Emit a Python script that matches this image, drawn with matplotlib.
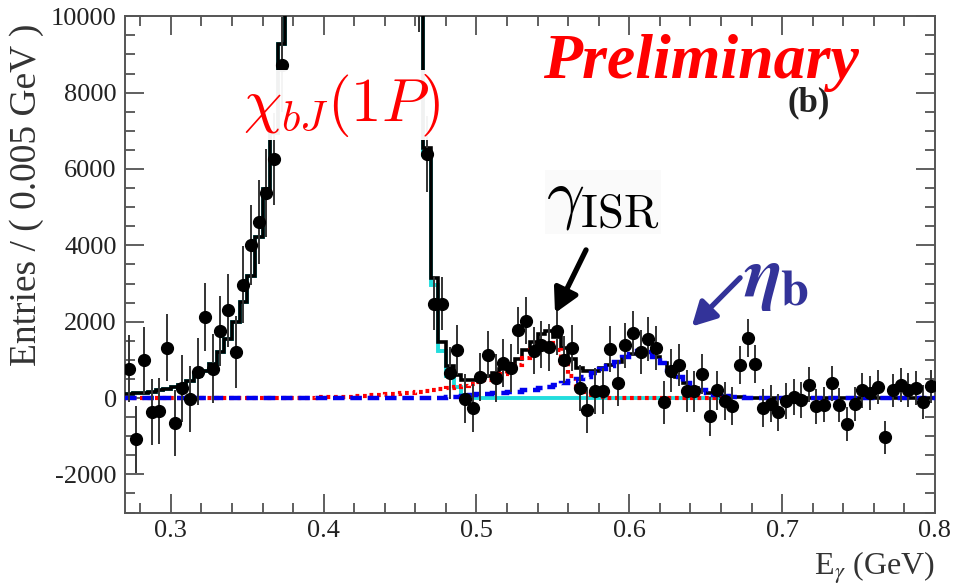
import numpy as np
import matplotlib.pyplot as plt
from matplotlib.ticker import MultipleLocator, FormatStrFormatter

plt.rcParams['font.family'] = ['Liberation Serif', 'DejaVu Serif']
plt.rcParams['mathtext.fontset'] = 'stix'
plt.rcParams['axes.unicode_minus'] = False

# 0.005 GeV bins from 0.27 to 0.80
edges = np.linspace(0.27, 0.80, 107)
centers = 0.5 * (edges[:-1] + edges[1:])

# data points (entries / bin) and errors
entries = [770, -1080, 990, -360, -345, 1320, -650, 250, -30, 690,
           2120, 770, 1760, 2300, 1200, 2970, 4000, 4610, 5370, 6260,
           8730, 13000, 17500, 21000, 27000, 31500, 36000, 38000, 41000, 42000,
           40000, 38500, 33000, 30000, 24000, 19000, 15000, 12500, 11000, 6400,
           2470, 2470, 650, 1265, -20, -270, 540, 1134, 524, 916,
           785, 1772, 2024, 1238, 1400, 1327, 1745, 1003, 1309, 262,
           -306, 175, 175, 1291, 385, 1380, 1700, 1200, 1553, 1309,
           -113, 720, 872, 175, 175, 630, -480, 200, -87, -200,
           856, 1571, 890, -262, -148, -375, -87, 17, -44, 349,
           -218, -175, 385, -175, -681, -157, 201, 131, 288, -1029,
           201, 349, 218, 262, -105, 306]
errors = [880, 880, 880, 870, 870, 870, 870, 870, 870, 880,
          900, 900, 920, 950, 950, 1000, 1050, 1100, 1150, 1200,
          1250, 1400, 1500, 1500, 1600, 1600, 1700, 1700, 1700, 1700,
          1700, 1700, 1700, 1600, 1600, 1500, 1500, 1400, 1400, 1000,
          700, 700, 680, 650, 640, 630, 630, 620, 620, 620,
          620, 620, 620, 620, 620, 620, 620, 620, 610, 600,
          600, 600, 600, 600, 600, 590, 580, 580, 580, 570,
          560, 560, 550, 550, 540, 530, 520, 510, 500, 500,
          500, 500, 490, 490, 480, 480, 470, 470, 470, 460,
          460, 460, 460, 450, 450, 450, 450, 450, 450, 440,
          440, 440, 440, 440, 440, 440]

# fit components per bin
fit_chib = [100, 120, 145, 170, 200, 235, 280, 340, 440, 580,
            720, 900, 1200, 1550, 1980, 2520, 3200, 4230, 5480, 6950,
            9280, 12500, 16500, 21000, 26000, 31000, 35500, 39000, 41000, 41500,
            40500, 38000, 34000, 29500, 24500, 19500, 15500, 12500, 10800, 6360,
            2950, 1240, 570, 290, 90, 30, 0, 0, 0, 0] + [0] * 56
fit_isr = [0] * 20 + [0, 0, 0, 5, 10, 15, 20, 25, 30, 40,
                      50, 60, 70, 85, 100, 115, 130, 145, 165, 185,
                      205, 230, 255, 285, 320, 360, 410, 470, 540, 620,
                      720, 860, 1060, 1250, 1420, 1450, 1250, 930, 580, 300,
                      150, 70, 30, 10] + [0] * 42
fit_etab = [0] * 41 + [10, 20, 40, 60, 80, 100, 110, 120, 130,
                       150, 170, 200, 220, 260, 300, 340, 390, 450, 490,
                       560, 650, 750, 850, 950, 1080, 1160, 1230, 1200, 1080,
                       920, 740, 560, 390, 270, 200, 140, 90, 60, 40,
                       20, 10] + [0] * 24

chib = np.array(fit_chib)
isr = np.array(fit_isr)
etab = np.array(fit_etab)
total = chib + isr + etab
ncomp = 79  # chi_b and ISR components drawn up to 0.665

fig = plt.figure(figsize=(9.54, 5.85), dpi=100)
ax = fig.add_axes([0.131, 0.1238, 0.849, 0.8484])

ax.stairs(chib[:ncomp], edges[:ncomp + 1], baseline=None, color='#22dddd', lw=2.8, zorder=2)
ax.stairs(total, edges, baseline=None, color='black', lw=2.6, zorder=3)
ax.stairs(isr[:ncomp], edges[:ncomp + 1], baseline=None, color='red', lw=3.0,
          linestyle=(0, (0.9, 0.9)), zorder=4)
ax.stairs(etab, edges, baseline=None, color='#0000ee', lw=3.2,
          linestyle=(0, (2.6, 1.3)), zorder=5)
ax.errorbar(centers, entries, yerr=errors, fmt='o', color='black', ms=8.5,
            ecolor='#333333', elinewidth=1.4, capsize=0, zorder=6)

ax.set_xlim(0.27, 0.80)
ax.set_ylim(-3000, 10000)
ax.xaxis.set_major_locator(MultipleLocator(0.1))
ax.xaxis.set_minor_locator(MultipleLocator(0.02))
ax.yaxis.set_major_locator(MultipleLocator(2000))
ax.yaxis.set_minor_locator(MultipleLocator(500))
ax.xaxis.set_major_formatter(FormatStrFormatter('%.1f'))
ax.tick_params(which='both', direction='in', top=True, right=True,
               color='#444444', width=1.2, labelcolor='#222222')
ax.tick_params(which='major', length=14)
ax.tick_params(which='minor', length=7)
ax.tick_params(axis='x', labelsize=19, pad=5)
ax.tick_params(axis='y', labelsize=19, pad=6)
for s in ax.spines.values():
    s.set_color('#555555')
    s.set_linewidth(1.4)

ax.set_ylabel('Entries / ( 0.005 GeV )', fontsize=27, loc='top', color='#333333')
ax.yaxis.set_label_coords(-0.10, 0.985)
ax.set_xlabel(r'E$_\gamma$ (GeV)', fontsize=23, loc='right', color='#333333')
ax.xaxis.set_label_coords(1.0, -0.075)

# annotations
fig.text(543 / 954, 1 - 78 / 585, 'Preliminary', ha='left', va='baseline',
         fontsize=46, fontweight='bold', fontstyle='italic', color='red', zorder=10)
fig.text(788 / 954, 1 - 111 / 585, '(b)', ha='left', va='baseline', fontsize=25,
         fontweight='bold', color='#222222', zorder=9)
fig.text(0.358, 0.8205, r'$\chi_{bJ}(1P)$', ha='center', va='center', fontsize=44,
         color='red', math_fontfamily='cm', zorder=10,
         bbox=dict(facecolor='white', edgecolor='none', pad=1, alpha=0.95))
fig.text(0.632, 0.655, r'$\gamma_{\rm ISR}$', ha='center', va='center', fontsize=48,
         color='black', math_fontfamily='cm', zorder=10,
         bbox=dict(facecolor='#fafafa', edgecolor='none', pad=1, alpha=0.95))
fig.text(0.8145, 0.521, r'$\boldsymbol{\eta}_{\mathbf{b}}$', ha='center', va='center',
         fontsize=52, color='#333399', math_fontfamily='stix', zorder=10)

ax.annotate('', xy=(0.5514, 2225), xytext=(0.5717, 3880),
            arrowprops=dict(arrowstyle='-|>,head_length=0.65,head_width=0.35',
                            mutation_scale=22, lw=3.8, color='black',
                            shrinkA=0, shrinkB=0), zorder=8)
ax.annotate('', xy=(0.6409, 1874), xytext=(0.6725, 3150),
            arrowprops=dict(arrowstyle='-|>,head_length=0.65,head_width=0.35',
                            mutation_scale=22, lw=3.8, color='#333399',
                            shrinkA=0, shrinkB=0), zorder=8)

fig.savefig('out.png', dpi=100)
